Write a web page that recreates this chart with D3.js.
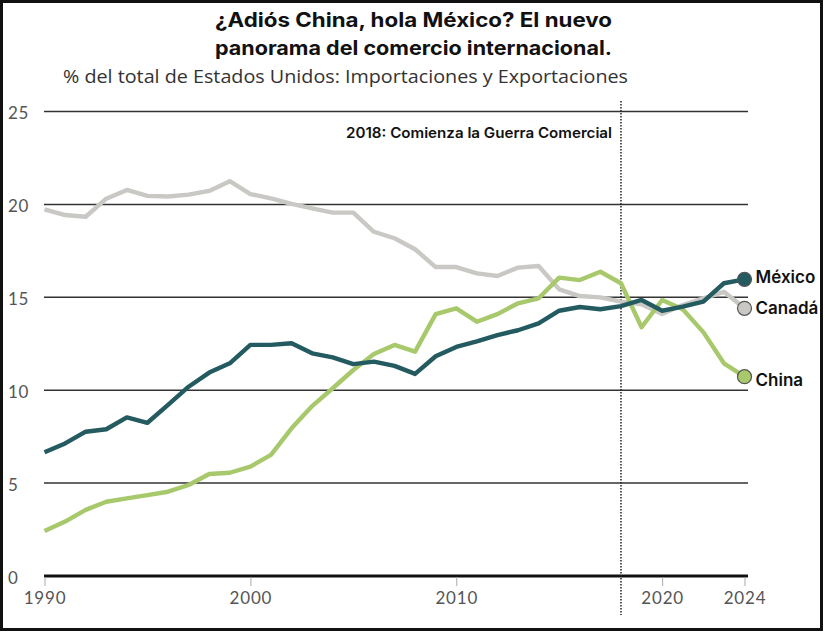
<!DOCTYPE html>
<html><head><meta charset="utf-8">
<script src="https://cdn.jsdelivr.net/npm/d3@7"></script>
<style>body{margin:0;background:#fff}svg{display:block}</style>
</head><body>
<svg id="c" width="825" height="634"></svg>
<script>
const years = d3.range(1990, 2025);
const mexico = [6.63,7.11,7.74,7.87,8.51,8.22,9.18,10.16,10.92,11.42,12.41,12.41,12.5,11.96,11.74,11.38,11.51,11.28,10.85,11.8,12.3,12.6,12.94,13.2,13.57,14.25,14.45,14.33,14.5,14.83,14.25,14.47,14.74,15.73,15.94];
const canada = [19.71,19.4,19.31,20.28,20.75,20.43,20.4,20.5,20.7,21.22,20.53,20.3,20.0,19.76,19.53,19.53,18.5,18.15,17.56,16.6,16.6,16.26,16.12,16.57,16.66,15.4,15.04,14.97,14.74,14.6,14.07,14.56,14.92,15.27,14.38];
const china = [2.39,2.9,3.53,3.97,4.15,4.33,4.51,4.87,5.46,5.53,5.86,6.49,7.92,9.12,10.08,11.06,11.92,12.41,12.05,14.07,14.38,13.66,14.07,14.65,14.92,16.03,15.9,16.35,15.73,13.36,14.83,14.33,13.1,11.42,10.7];
const yTicks = [0,5,10,15,20,25];
const xTicks = [1990,2000,2010,2020,2024];
const seriesNames = ["Canadá","China","México"];
const titleLines = ["¿Adiós China, hola México? El nuevo","panorama del comercio internacional."];
const subtitle = "% del total de Estados Unidos: Importaciones y Exportaciones";
const annotation = "2018: Comienza la Guerra Comercial";

const series = [
  {name:seriesNames[0], values:canada, color:"#cac8c5", labelDy:6},
  {name:seriesNames[1], values:china, color:"#a8c86c", labelDy:9},
  {name:seriesNames[2], values:mexico, color:"#245b61", labelDy:4}
];

const svg = d3.select("#c");
const x = d3.scaleLinear().domain([1990,2024]).range([44.5,744.5]);
const y = d3.scaleLinear().domain([0,25]).range([575.5,111]);

// frame
svg.append("rect").attr("x",1.5).attr("y",1.5).attr("width",820).attr("height",628)
  .attr("fill","#fff").attr("stroke","#111").attr("stroke-width",3);

// title
svg.selectAll("text.title").data(titleLines).join("text")
  .attr("x",215).attr("y",(d,i)=>27+i*28).attr("text-anchor","start")
  .attr("textLength",397).attr("lengthAdjust","spacingAndGlyphs")
  .attr("font-family","Inter, Roboto, sans-serif").attr("font-weight",700).attr("font-size",20)
  .attr("fill","#111").text(d=>d);
svg.append("text").attr("x",63).attr("y",83)
  .attr("textLength",565).attr("lengthAdjust","spacingAndGlyphs")
  .attr("font-family","'Open Sans', sans-serif").attr("font-size",17.5).attr("fill","#333").text(subtitle);

// gridlines + y labels
const yAxis = d3.axisLeft(y).tickValues(yTicks).tickSize(0).tickPadding(0);
const gy = svg.append("g").call(yAxis);
gy.select(".domain").remove();
gy.selectAll(".tick text").attr("x",8).attr("text-anchor","start").attr("dy","0.45em")
  .attr("font-family","Lato, sans-serif").attr("font-size",17).attr("letter-spacing",0.6).attr("fill","#555");
gy.selectAll(".tick").append("line").attr("x1",44).attr("x2",748)
  .attr("stroke",d=>d===0?"#111":"#333").attr("stroke-width",d=>d===0?3:1.5);

// x axis
const xAxis = d3.axisBottom(x).tickValues(xTicks).tickFormat(d3.format("d")).tickSize(9).tickPadding(6);
const gx = svg.append("g").attr("transform","translate(0,577)").call(xAxis);
gx.select(".domain").remove();
gx.selectAll(".tick line").attr("stroke","#aaa").attr("stroke-width",1);
gx.selectAll(".tick text").attr("font-family","Lato, sans-serif").attr("font-size",17)
  .attr("letter-spacing",0.8).attr("fill","#555");

// 2018 line
svg.append("line").attr("x1",x(2018)).attr("x2",x(2018)).attr("y1",101).attr("y2",615)
  .attr("stroke","#222").attr("stroke-width",1.5).attr("stroke-dasharray","1.5,1.5");
svg.append("text").attr("x",346).attr("y",138).attr("text-anchor","start")
  .attr("textLength",266).attr("lengthAdjust","spacingAndGlyphs")
  .attr("font-family","Inter, sans-serif").attr("font-weight",600).attr("font-size",14.5)
  .attr("fill","#111").text(annotation);

// lines
const line = d3.line().x((d,i)=>x(years[i])).y(d=>y(d));
svg.selectAll("path.series").data(series).join("path").attr("class","series")
  .attr("d",d=>line(d.values)).attr("fill","none").attr("stroke",d=>d.color)
  .attr("stroke-width",4.4).attr("stroke-linejoin","round");

// end dots + labels
const last = years.length-1;
svg.selectAll("circle.end").data(series).join("circle")
  .attr("cx",x(years[last])).attr("cy",d=>y(d.values[last])).attr("r",7)
  .attr("fill",d=>d.color).attr("stroke","#555").attr("stroke-width",1.2);
svg.selectAll("text.lab").data(series).join("text")
  .attr("x",x(years[last])+11).attr("y",d=>y(d.values[last])+d.labelDy)
  .attr("font-family","Inter, sans-serif").attr("font-weight",600).attr("font-size",17)
  .attr("fill","#111").text(d=>d.name);
</script>
</body></html>
